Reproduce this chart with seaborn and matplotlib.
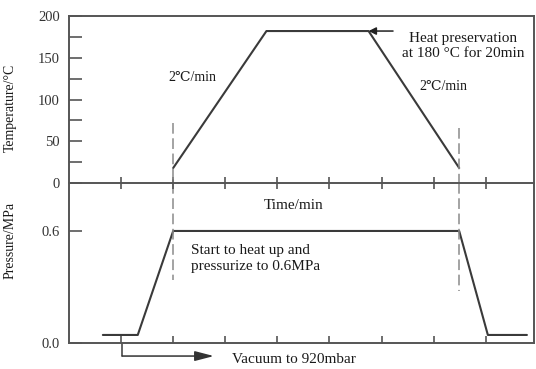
import matplotlib
matplotlib.use("Agg")
import matplotlib.pyplot as plt
import seaborn as sns
import pandas as pd

# ---- data (time in tick units, one tick = one time step) ----
temp_time = [2.0, 3.79, 5.75, 7.49]
temp_vals = [18, 182, 182, 18]

pres_time = [0.65, 1.32, 2.0, 7.49, 8.04, 8.79]
pres_vals = [0.043, 0.043, 0.6, 0.6, 0.043, 0.043]

temp_yticks = [0, 50, 100, 150, 200]
temp_minor = [25, 75, 125, 175]
pres_yticks = [0.0, 0.6]
pres_ticklabels = ["0.0", "0.6"]
time_ticks = [1, 2, 3, 4, 5, 6, 7, 8]

sns.set_theme(style="white")
plt.rcParams["font.family"] = ["Liberation Serif", "DejaVu Serif", "DejaVu Sans"]

LINE = "#3a3a3a"
SPINE = "#555555"
TXT = "#1a1a1a"
DASH = "#8a8a8a"

fig = plt.figure(figsize=(5.36, 3.69), dpi=100)
ax2 = fig.add_axes([0.1287, 0.0705, 0.8675, 0.4336])
ax1 = fig.add_axes([0.1287, 0.504, 0.8675, 0.4526])
ax1.set_zorder(3)
ax1.patch.set_visible(False)

xmax = 8.925
for ax in (ax1, ax2):
    ax.set_xlim(0, xmax)
    for s in ax.spines.values():
        s.set_color(SPINE)
        s.set_linewidth(1.4)
ax2.spines["top"].set_visible(False)

ax1.set_ylim(0, 200)
ax2.set_ylim(0, 0.857)

df_t = pd.DataFrame({"time": temp_time, "temp": temp_vals})
df_p = pd.DataFrame({"time": pres_time, "pres": pres_vals})
sns.lineplot(data=df_t, x="time", y="temp", ax=ax1, color=LINE, lw=1.5,
             sort=False, estimator=None)
sns.lineplot(data=df_p, x="time", y="pres", ax=ax2, color=LINE, lw=1.5,
             sort=False, estimator=None)

# dashed guide lines
ax1.plot([temp_time[0], temp_time[0]], [72, 0], color=DASH, lw=1.1, dashes=(7, 3), clip_on=False)
ax2.plot([temp_time[0], temp_time[0]], [0.857, 0.34], color=DASH, lw=1.1, dashes=(7, 3))
ax1.plot([temp_time[-1], temp_time[-1]], [66, 0], color=DASH, lw=1.1, dashes=(7, 3), clip_on=False)
ax2.plot([temp_time[-1], temp_time[-1]], [0.857, 0.28], color=DASH, lw=1.1, dashes=(7, 3))

# ticks
ax1.set_xticks(time_ticks)
ax1.set_xticklabels([])
ax1.tick_params(axis="x", direction="inout", length=8, width=1.2, color=SPINE,
                bottom=True, top=False)
ax1.set_yticks(temp_yticks)
ax1.set_yticks(temp_minor, minor=True)
ax1.tick_params(axis="y", which="both", direction="in", length=9, width=1.2,
                color=SPINE, left=True, right=False, labelsize=10.5,
                labelcolor="#333333", pad=6.5)

ax2.set_xticks(time_ticks)
ax2.set_xticklabels([])
ax2.tick_params(axis="x", direction="in", length=5, width=1.2, color=SPINE,
                bottom=True, top=False)
ax2.set_yticks(pres_yticks)
ax2.set_yticklabels(pres_ticklabels)
ax2.tick_params(axis="y", direction="in", length=9, width=1.2, color=SPINE,
                left=True, right=False, labelsize=10.5, labelcolor="#333333", pad=6.5)

ax1.set_xlabel("")
ax2.set_xlabel("")
ax1.set_ylabel("Temperature/°C", fontsize=10, color=TXT)
ax2.set_ylabel("Pressure/MPa", fontsize=10, color=TXT)
ax1.yaxis.set_label_coords(-0.112, 0.45)
ax2.yaxis.set_label_coords(-0.112, 0.64)

# annotations
fs = 11
ax1.text(2.36, 126, "2℃/min", fontsize=fs - 1, ha="center", va="center", color=TXT)
ax1.text(7.18, 116, "2℃/min", fontsize=fs - 1, ha="center", va="center", color=TXT)
ax1.text(7.56, 164, "Heat preservation\nat 180 °C for 20min", fontsize=fs,
         ha="center", va="center", color=TXT, linespacing=1.25)
ax1.annotate("", xy=(5.75, 182), xytext=(6.22, 182),
             arrowprops=dict(arrowstyle="-|>", color="#222222", lw=1.1,
                             mutation_scale=11, shrinkA=0, shrinkB=0))

ax2.text(4.32, 0.734, "Time/min", fontsize=fs, ha="center", va="center", color=TXT)
ax2.text(2.34, 0.453, "Start to heat up and\npressurize to 0.6MPa", fontsize=fs,
         ha="left", va="center", color=TXT, linespacing=1.25)

# vacuum arrow below the axis
ax2.plot([1.02, 1.02], [0, -0.07], color=LINE, lw=1.1, clip_on=False)
ax2.annotate("", xy=(2.78, -0.07), xytext=(1.02, -0.07),
             xycoords="data", textcoords="data", annotation_clip=False,
             arrowprops=dict(arrowstyle="-|>,head_length=1.15,head_width=0.3",
                             color="#333333", lw=1.1,
                             mutation_scale=10, shrinkA=0, shrinkB=0))
ax2.text(3.13, -0.091, "Vacuum to 920mbar", fontsize=fs, ha="left", va="center",
         color=TXT, clip_on=False)

fig.savefig("out.png", dpi=100)
